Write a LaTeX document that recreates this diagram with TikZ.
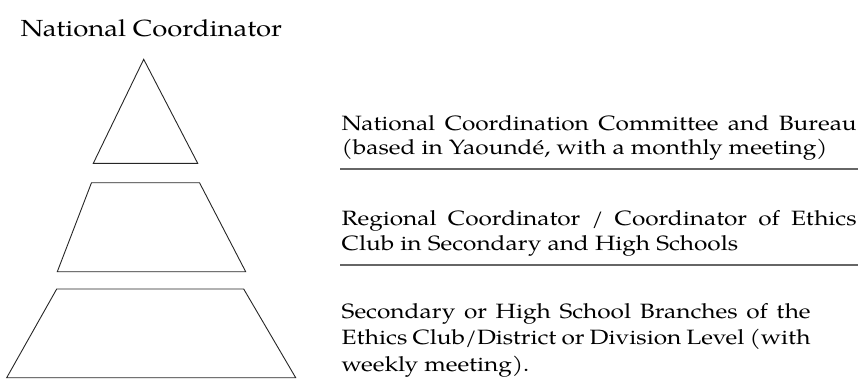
\documentclass[tikz,border=0pt]{standalone}
\usepackage{fontspec}
\setmainfont{TeX Gyre Pagella}[FakeStretch=1.18]
\newcommand{\linesblock}[2]{\vtop{\baselineskip=#1\lineskiplimit=-20pt #2}}
\begin{document}
\begin{tikzpicture}[x=1pt,y=-1pt,
  lbl/.style={inner sep=0pt, anchor=base west,
    font=\fontsize{20.7}{24.5}\selectfont},
  title lbl/.style={inner sep=0pt, anchor=base west,
    font=\fontsize{23.3}{28}\selectfont},
  shape line/.style={draw=black!85, line width=0.9pt, line join=miter},
  rule line/.style={draw=black!60, line width=1.6pt}]
\useasboundingbox (0,0) rectangle (862,381);
% pyramid
\draw[shape line] (143.7,59.3) -- (197.7,163.3) -- (93.3,163.3) -- cycle;
\draw[shape line] (91.5,182.7) -- (199.5,182.7) -- (245.7,271.7) -- (57.3,271.7) -- cycle;
\draw[shape line] (56.7,289) -- (243.7,289) -- (295.7,377.7) -- (6.7,377.7) -- cycle;
% texts
\node[title lbl] (top) at (20.5,36) {National Coordinator};
\node[lbl] (t1) at (341.5,130) {\linesblock{24.4pt}{\hbox{\makebox[515pt][s]{National Coordination Committee and Bureau}}\hbox{(based in Yaoundé, with a monthly meeting)}}};
\node[lbl] (t2) at (341.5,225.7) {\linesblock{24.4pt}{\hbox{\makebox[515pt][s]{Regional Coordinator / Coordinator of Ethics}}\hbox{Club in Secondary and High Schools}}};
\node[lbl] (t3) at (341.5,318.5) {\linesblock{26.3pt}{\hbox{\makebox[469pt][s]{Secondary or High School Branches of the}}\hbox{\makebox[469pt][s]{Ethics Club/District or Division Level (with}}\hbox{weekly meeting).}}};
% rules
\coordinate (r1a) at (340,169); \coordinate (r1b) at (858,169);
\coordinate (r2a) at (340,265); \coordinate (r2b) at (858,265);
\draw[rule line] (r1a) -- (r1b);
\draw[rule line] (r2a) -- (r2b);
\end{tikzpicture}
\end{document}
